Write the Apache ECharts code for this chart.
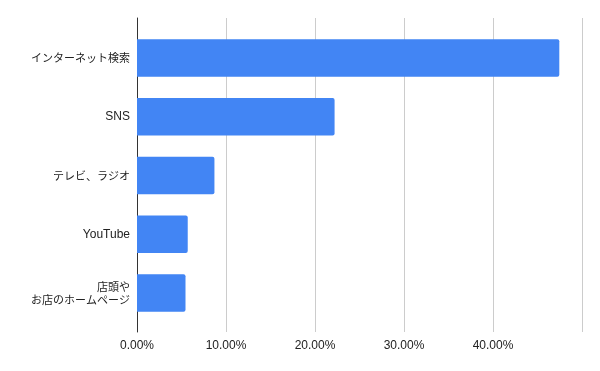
<!DOCTYPE html>
<html><head><meta charset="utf-8">
<script src="https://cdn.jsdelivr.net/npm/echarts@6/dist/echarts.min.js"></script>
<style>html,body{margin:0;padding:0;background:#fff}#c{width:600px;height:371px}</style>
</head><body><div id="c"></div>
<script>
const categories = ['インターネット検索', 'SNS', 'テレビ、ラジオ', 'YouTube', '店頭や\nお店のホームページ'];
const values = [0.4745, 0.222, 0.087, 0.057, 0.0545];
const xTicks = [0, 0.1, 0.2, 0.3, 0.4, 0.5];

const xMin = xTicks[0], xMax = xTicks[xTicks.length - 1];
const chart = echarts.init(document.getElementById('c'), null, {renderer: 'canvas'});
chart.setOption({
  animation: false,
  grid: [
    {left: 137, right: 18, top: 18, bottom: 39, containLabel: false},
    {left: 137, right: 18, top: 28.7, bottom: 48.6, containLabel: false}
  ],
  xAxis: [{
    gridIndex: 0, type: 'value', min: xMin, max: xMax, interval: 0.1,
    axisLine: {show: false}, axisTick: {show: false},
    splitLine: {lineStyle: {color: '#cccccc', width: 1}},
    axisLabel: {
      showMaxLabel: false, color: '#222', fontSize: 12, margin: 8,
      fontFamily: 'Liberation Sans, Arial, sans-serif',
      formatter: v => (v * 100).toFixed(2) + '%'
    }
  }, {
    gridIndex: 1, type: 'value', min: xMin, max: xMax, show: false
  }],
  yAxis: [{
    gridIndex: 0, type: 'value', min: 0, max: 1,
    axisLine: {show: true, lineStyle: {color: '#333', width: 1}},
    axisTick: {show: false}, axisLabel: {show: false}, splitLine: {show: false}
  }, {
    gridIndex: 1, type: 'category', data: categories, inverse: true,
    axisLine: {show: false}, axisTick: {show: false},
    axisLabel: {
      color: '#222', fontSize: 11, margin: 7, lineHeight: 13,
      fontFamily: 'Noto Sans CJK JP, sans-serif',
      formatter: v => /^[\x00-\x7F]+$/.test(v) ? '{l|' + v + '}' : v,
      rich: {l: {fontSize: 12, color: '#222', fontFamily: 'Liberation Sans, Arial, sans-serif'}}
    }
  }],
  series: [{
    type: 'bar', xAxisIndex: 1, yAxisIndex: 1, data: values, barWidth: '64%',
    itemStyle: {color: '#4285f4', borderRadius: [0, 2, 2, 0]}
  }]
});
</script></body></html>
